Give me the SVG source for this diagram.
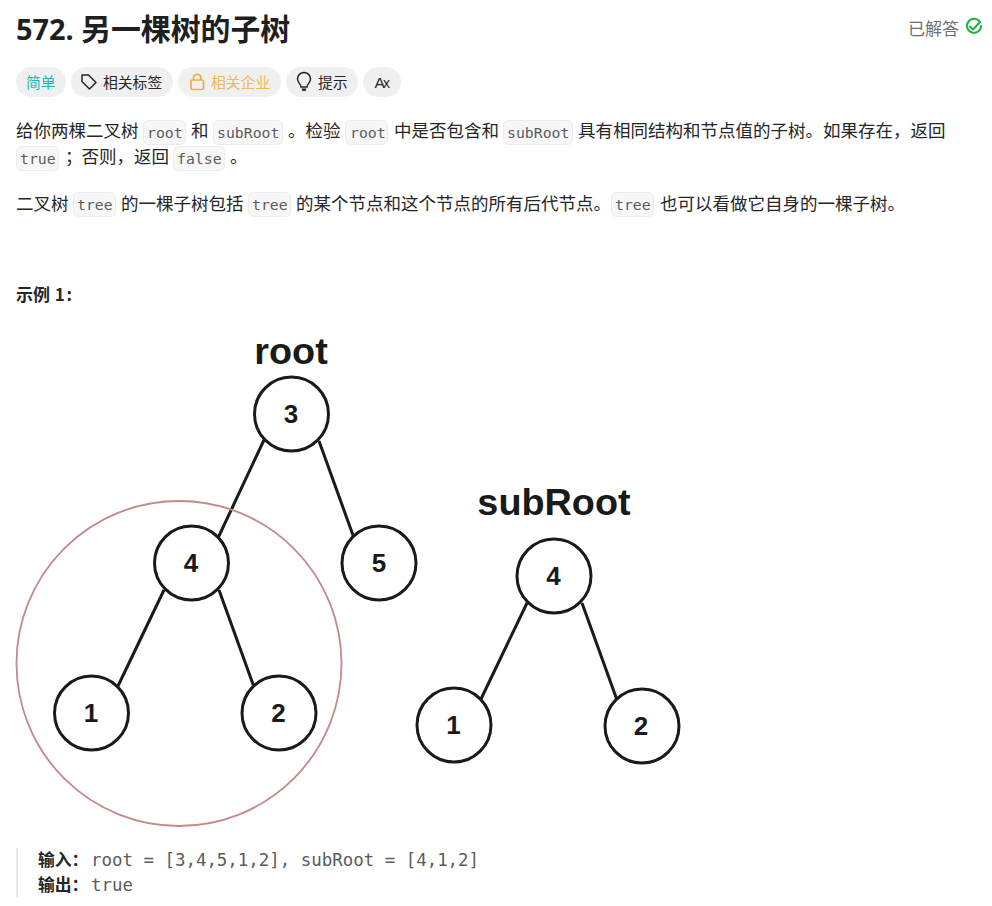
<svg xmlns="http://www.w3.org/2000/svg" width="992" height="906" viewBox="0 0 992 906">
<style>
text{font-family:"Noto Sans CJK SC","Noto Sans",sans-serif;fill:#262626}
.b{font-size:17.5px}
.c{font-family:"DejaVu Sans Mono",monospace;font-size:14.8px;fill:#5c5c5c}
.box{fill:#f7f7f8;stroke:#ececee;stroke-width:1}
.pill{fill:#f0f0f0}
.p{font-size:14.8px}
.n{fill:#fff;stroke:#1a1a1a;stroke-width:3}
.l{font-family:"Liberation Sans",Arial,sans-serif;font-weight:700;font-size:26px;fill:#1a1a1a;text-anchor:middle}
.t{font-family:"Liberation Sans",Arial,sans-serif;font-weight:700;font-size:37.8px;fill:#1a1a1a;text-anchor:middle}
.m{font-family:"DejaVu Sans Mono",monospace;font-size:17.43px;fill:#5c5c5c}
.s{font-weight:700;font-size:16.8px;fill:#262626}
</style>
<rect width="992" height="906" fill="#fff"/>
<g id="header">
<text x="16" y="40" style="font-family:'Noto Sans','Noto Sans CJK SC',sans-serif;font-size:28.9px;font-weight:700;fill:#1f1f1f">572.</text>
<text x="81" y="40" style="font-size:29.9px;font-weight:700;fill:#1f1f1f">另一棵树的子树</text>
<text x="908" y="35" style="font-size:17px;fill:#707070">已解答</text>
<g fill="none" stroke="#1fb141" stroke-width="2" stroke-linecap="round" stroke-linejoin="round"><path d="M979.500 21.500A7 7 0 1 0 981 26"/><path d="M970 26.500l3 3 7-7.500"/></g>
</g>
<g id="tags">
<rect class="pill" x="16" y="67" width="50" height="30" rx="15"/><text class="p" x="26" y="88" style="fill:#1cb8b8">简单</text>
<rect class="pill" x="71" y="67" width="102" height="30" rx="15"/>
<path d="M82 75h6.500l7.500 7.500-6.500 6.500-7.500-7.500z" fill="none" stroke="#262626" stroke-width="1.500" stroke-linejoin="round"/><text class="p" x="103" y="88">相关标签</text>
<rect class="pill" x="178" y="67" width="103" height="30" rx="15"/>
<g fill="none" stroke="#f0ae45" stroke-width="1.700"><rect x="191" y="80" width="12.500" height="9.500" rx="1.500"/><path d="M193.500 80v-3a4 4 0 0 1 7.500 0v3"/></g><text class="p" x="211" y="88" style="fill:#f0b65c">相关企业</text>
<rect class="pill" x="286" y="67" width="72" height="30" rx="15"/>
<g fill="none" stroke="#262626" stroke-width="1.500"><path d="M301 87c0-3-3.500-4-3.500-8a6.500 6.500 0 0 1 13 0c0 4-3.500 5-3.500 8z"/></g><path d="M301.500 88.500h5l-1 2.500h-3z" fill="#262626"/><text class="p" x="318" y="88">提示</text>
<rect class="pill" x="363" y="67" width="38" height="30" rx="15"/>
<text x="374.500" y="87.500" style="font-family:'Liberation Sans',sans-serif;font-size:15.500px">A</text><text x="383" y="88" style="font-family:'Liberation Sans',sans-serif;font-size:14px">x</text>
</g>
<g id="description">
<text class="b" x="16" y="137">给你两棵二叉树</text>
<rect class="box" x="143.500" y="120.500" width="42" height="24" rx="5"/><text class="c" x="147" y="138">root</text>
<text class="b" x="191" y="137">和</text>
<rect class="box" x="213.500" y="120.500" width="69" height="24" rx="5"/><text class="c" x="217" y="138">subRoot</text>
<text class="b" x="288" y="137">。检验</text>
<rect class="box" x="345.500" y="120.500" width="42" height="24" rx="5"/><text class="c" x="350" y="138">root</text>
<text class="b" x="394" y="137">中是否包含和</text>
<rect class="box" x="503.500" y="120.500" width="69" height="24" rx="5"/><text class="c" x="507" y="138">subRoot</text>
<text class="b" x="578" y="137">具有相同结构和节点值的子树。如果存在，返回</text>
<rect class="box" x="16.500" y="146.500" width="42" height="24" rx="5"/><text class="c" x="20" y="164">true</text>
<text class="b" x="65" y="163">；</text><text class="b" x="81.500" y="163">否则，返回</text>
<rect class="box" x="173.500" y="146.500" width="51" height="24" rx="5"/><text class="c" x="177" y="164">false</text>
<text class="b" x="230" y="163">。</text>
<text class="b" x="16" y="210">二叉树</text>
<rect class="box" x="73.500" y="192.500" width="42" height="24" rx="5"/><text class="c" x="77" y="210">tree</text>
<text class="b" x="121" y="210">的一棵子树包括</text>
<rect class="box" x="248.500" y="192.500" width="42" height="24" rx="5"/><text class="c" x="252" y="210">tree</text>
<text class="b" x="296" y="210">的某个节点和这个节点的所有后代节点。</text>
<rect class="box" x="611.500" y="192.500" width="42" height="24" rx="5"/><text class="c" x="615" y="210">tree</text>
<text class="b" x="660" y="210">也可以看做它自身的一棵子树。</text>
<text x="16" y="301" style="font-weight:700;font-size:17px">示例 <tspan dx="1">1</tspan><tspan dx="1.500">:</tspan></text>
</g>
<g id="connectors" stroke="#1a1a1a" stroke-width="3" fill="none">
<path d="M264 440L218 538M319 441L354 538M164 590L118 686M219 590L254 687M527 603L481 699M582 603L617 700"/>
</g>
<g id="highlight"><circle cx="179" cy="663.500" r="162.500" fill="none" stroke="#c48a8a" stroke-width="1.800"/></g>
<g id="label-root"><text class="t" x="291" y="364">root</text></g>
<g id="label-subRoot"><text class="t" x="554" y="515">subRoot</text></g>
<g id="node-3"><circle class="n" cx="291.500" cy="414" r="37"/><text class="l" x="291" y="423">3</text></g>
<g id="node-4"><circle class="n" cx="191.500" cy="563" r="37"/><text class="l" x="191" y="572">4</text></g>
<g id="node-5"><circle class="n" cx="379" cy="563" r="37"/><text class="l" x="379" y="572">5</text></g>
<g id="node-1"><circle class="n" cx="91.500" cy="713" r="37"/><text class="l" x="91" y="722">1</text></g>
<g id="node-2"><circle class="n" cx="279" cy="713" r="37"/><text class="l" x="278.500" y="722">2</text></g>
<g id="sub-node-4"><circle class="n" cx="554" cy="576" r="37"/><text class="l" x="553.500" y="585">4</text></g>
<g id="sub-node-1"><circle class="n" cx="454" cy="725" r="37"/><text class="l" x="453.500" y="734">1</text></g>
<g id="sub-node-2"><circle class="n" cx="642" cy="726" r="37"/><text class="l" x="641" y="735">2</text></g>
<g id="example">
<rect x="16" y="848" width="2" height="49" fill="#e8e8e8"/>
<text class="s" x="38" y="866">输入：</text><text class="m" x="91" y="866">root = [3,4,5,1,2], subRoot = [4,1,2]</text>
<text class="s" x="38" y="891">输出：</text><text class="m" x="91" y="891">true</text>
</g>
</svg>
